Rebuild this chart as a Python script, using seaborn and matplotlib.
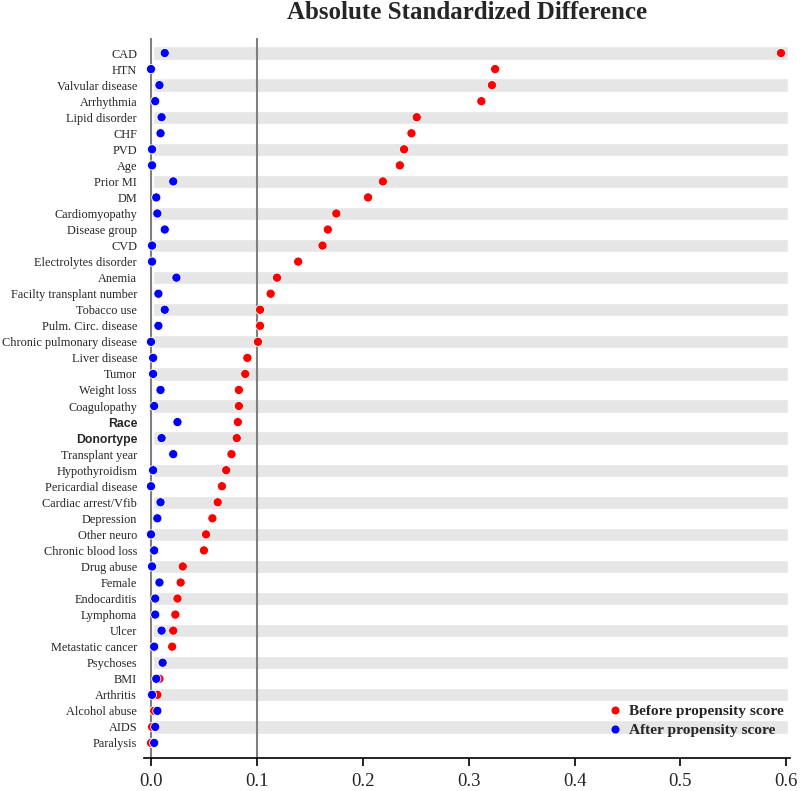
import numpy as np
import pandas as pd
import seaborn as sns
import matplotlib.pyplot as plt
from matplotlib.lines import Line2D

covariates = [
    "CAD", "HTN", "Valvular disease", "Arrhythmia", "Lipid disorder", "CHF", "PVD",
    "Age", "Prior MI", "DM", "Cardiomyopathy", "Disease group", "CVD",
    "Electrolytes disorder", "Anemia", "Facilty transplant number", "Tobacco use",
    "Pulm. Circ. disease", "Chronic pulmonary disease", "Liver disease", "Tumor",
    "Weight loss", "Coagulopathy", "Race", "Donortype", "Transplant year",
    "Hypothyroidism", "Pericardial disease", "Cardiac arrest/Vfib", "Depression",
    "Other neuro", "Chronic blood loss", "Drug abuse", "Female", "Endocarditis",
    "Lymphoma", "Ulcer", "Metastatic cancer", "Psychoses", "BMI", "Arthritis",
    "Alcohol abuse", "AIDS", "Paralysis",
]
before = [
    0.595, 0.325, 0.322, 0.312, 0.251, 0.246, 0.239, 0.235, 0.219, 0.205,
    0.175, 0.167, 0.162, 0.139, 0.119, 0.113, 0.103, 0.103, 0.101, 0.091,
    0.089, 0.083, 0.083, 0.082, 0.081, 0.076, 0.071, 0.067, 0.063, 0.058,
    0.052, 0.050, 0.030, 0.028, 0.025, 0.023, 0.021, 0.020, 0.011, 0.008,
    0.006, 0.003, 0.001, 0.000,
]
after = [
    0.013, 0.000, 0.008, 0.004, 0.010, 0.009, 0.001, 0.001, 0.021, 0.005,
    0.006, 0.013, 0.001, 0.001, 0.024, 0.007, 0.013, 0.007, 0.000, 0.002,
    0.002, 0.009, 0.003, 0.025, 0.010, 0.021, 0.002, 0.000, 0.009, 0.006,
    0.000, 0.003, 0.001, 0.008, 0.004, 0.004, 0.010, 0.003, 0.011, 0.005,
    0.001, 0.006, 0.004, 0.003,
]
groups = ["Before propensity score", "After propensity score"]
colors = ["#ff0000", "#0000ff"]

df = pd.DataFrame({"covariate": covariates, groups[0]: before, groups[1]: after})
long = df.melt(id_vars="covariate", var_name="when", value_name="asd")

sns.set_style("white")
plt.rcParams["font.family"] = ["Liberation Serif", "DejaVu Serif"]

fig = plt.figure(figsize=(8, 7.91), dpi=100)
ax = fig.add_axes([0.18, 0.0417, 0.8075, 0.9103])

# grey bands on every other row
rows = np.arange(len(covariates))
ax.barh(rows[::2], 0.6, left=0.0015, height=0.83, color="#e6e6e6", zorder=0)

sns.stripplot(data=long, x="asd", y="covariate", hue="when", hue_order=groups,
              palette=colors, order=covariates, jitter=False, dodge=False,
              s=6.6, linewidth=0.6, edgecolor="white", ax=ax, legend=False, zorder=3)

ax.axvline(0, color="#7f7f7f", lw=1.5, zorder=1)
ax.axvline(0.1, color="#7f7f7f", lw=1.5, zorder=1)

ax.set_xlim(-0.0066, 0.6035)
ax.set_ylim(len(covariates) - 0.06, -0.94)
ax.set_xticks(np.arange(0, 0.61, 0.1))
ax.set_xticklabels([f"{t:.1f}" for t in np.arange(0, 0.61, 0.1)], fontsize=13.5)
ax.set_xlabel("")
ax.set_ylabel("")
ax.tick_params(axis="x", bottom=True, direction="out", length=6, width=1.2,
               color="black", pad=5)
ax.tick_params(axis="y", left=False, pad=1.5, labelsize=8.8)
for name in ["top", "right", "left"]:
    ax.spines[name].set_visible(False)
ax.spines["bottom"].set_color("black")
ax.spines["bottom"].set_linewidth(1.2)

for lab in ax.get_yticklabels():
    if lab.get_text() in ("Race", "Donortype"):
        lab.set_family("Liberation Sans")
        lab.set_fontweight("bold")

ax.set_title("Absolute Standardized Difference", fontsize=18, fontweight="bold", pad=14)

handles = [Line2D([], [], marker="o", ls="", color=c, markersize=4.8) for c in colors]
leg = ax.legend(handles, groups, loc="lower right", bbox_to_anchor=(1.0, 0.02),
                frameon=False, prop={"weight": "bold", "size": 11.1},
                handletextpad=0.4, labelspacing=0.35, handlelength=1.0,
                borderaxespad=0.0)

fig.savefig("out.png", dpi=100)
